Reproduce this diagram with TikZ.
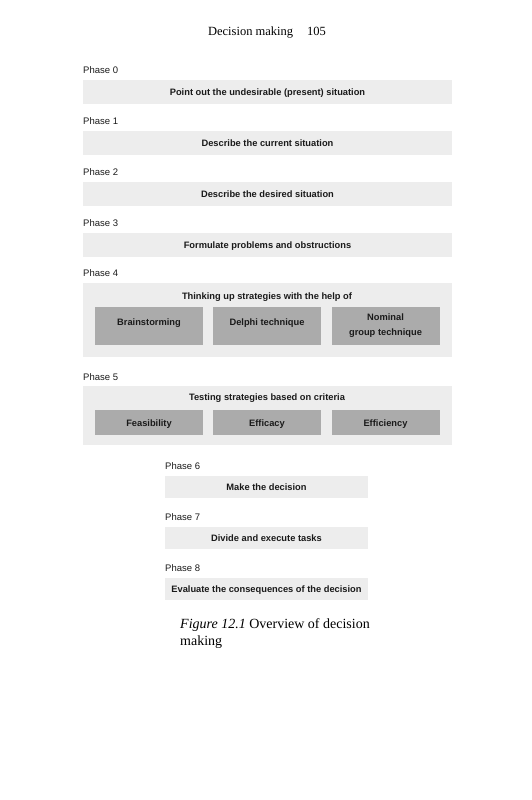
\documentclass[tikz,border=0pt]{standalone}
\usepackage{fontspec}
\setmainfont{Liberation Serif}
\newfontfamily\phasefont{Liberation Sans}
\definecolor{bandgray}{HTML}{EDEDED}
\definecolor{boxgray}{HTML}{ABABAB}
\definecolor{inkgray}{HTML}{1A1A1A}

\begin{document}
\begin{tikzpicture}[x=1pt, y=-1pt,
    phase/.style={anchor=west, inner sep=0pt, text=inkgray, font=\phasefont\fontsize{9.5}{11}\selectfont},
    band/.style={fill=bandgray, inner sep=0pt, minimum width=369pt, minimum height=24pt, text height=8pt, text depth=0.5pt, text=inkgray, font=\phasefont\bfseries\fontsize{9.3}{11}\selectfont},
    shortband/.style={band, minimum width=203pt, minimum height=22pt},
    bigband/.style={fill=bandgray, inner sep=0pt, minimum width=369pt},
    title/.style={inner sep=0pt, text height=8pt, text depth=0.5pt, text=inkgray, font=\phasefont\bfseries\fontsize{9.3}{11}\selectfont},
    tool/.style={fill=boxgray, inner sep=0pt, minimum width=108pt, align=center, text=inkgray, font=\phasefont\bfseries\fontsize{9.3}{15}\selectfont},
    crit/.style={tool, minimum height=25pt, text height=8pt, text depth=0.5pt}]
  \useasboundingbox (0,0) rectangle (531,800);
  \node (head) at (267,33) {\fontsize{12.5}{14}\selectfont Decision making\hspace{14pt}105};

  \node[phase] (l0) at (83,70) {Phase 0};
  \node[band] (b0) at (267.5,91.5) {Point out the undesirable (present) situation};
  \node[phase] (l1) at (83,121) {Phase 1};
  \node[band] (b1) at (267.5,143) {Describe the current situation};
  \node[phase] (l2) at (83,172) {Phase 2};
  \node[band] (b2) at (267.5,194) {Describe the desired situation};
  \node[phase] (l3) at (83,223) {Phase 3};
  \node[band] (b3) at (267.5,245) {Formulate problems and obstructions};

  \node[phase] (l4) at (83,273) {Phase 4};
  \node[bigband, minimum height=74pt] (b4) at (267.5,320) {};
  \node[title] (t4) at (267,296) {Thinking up strategies with the help of};
  \node[tool, minimum height=38pt] (brain) at (149,326) {\raisebox{7pt}{Brainstorming}};
  \node[tool, minimum height=38pt] (delphi) at (267,326) {\raisebox{7pt}{Delphi technique}};
  \node[tool, minimum height=38pt] (nominal) at (385.5,326) {\raisebox{2.5pt}{Nominal}\\\raisebox{2.5pt}{group technique}};

  \node[phase] (l5) at (83,377) {Phase 5};
  \node[bigband, minimum height=59pt] (b5) at (267.5,415.5) {};
  \node[title] (t5) at (267,397) {Testing strategies based on criteria};
  \node[crit] (feas) at (149,422.5) {Feasibility};
  \node[crit] (effic) at (267,422.5) {Efficacy};
  \node[crit] (effie) at (385.5,422.5) {Efficiency};

  \node[phase] (l6) at (165,466) {Phase 6};
  \node[shortband] (b6) at (266.5,487) {Make the decision};
  \node[phase] (l7) at (165,517) {Phase 7};
  \node[shortband] (b7) at (266.5,538) {Divide and execute tasks};
  \node[phase] (l8) at (165,568) {Phase 8};
  \node[shortband] (b8) at (266.5,589) {Evaluate the consequences of the decision};

  \node[anchor=north west, align=left, inner sep=0pt, font=\fontsize{14}{17}\selectfont] (cap) at (180,618)
    {\textit{Figure 12.1} Overview of decision\\making};
\end{tikzpicture}
\end{document}
